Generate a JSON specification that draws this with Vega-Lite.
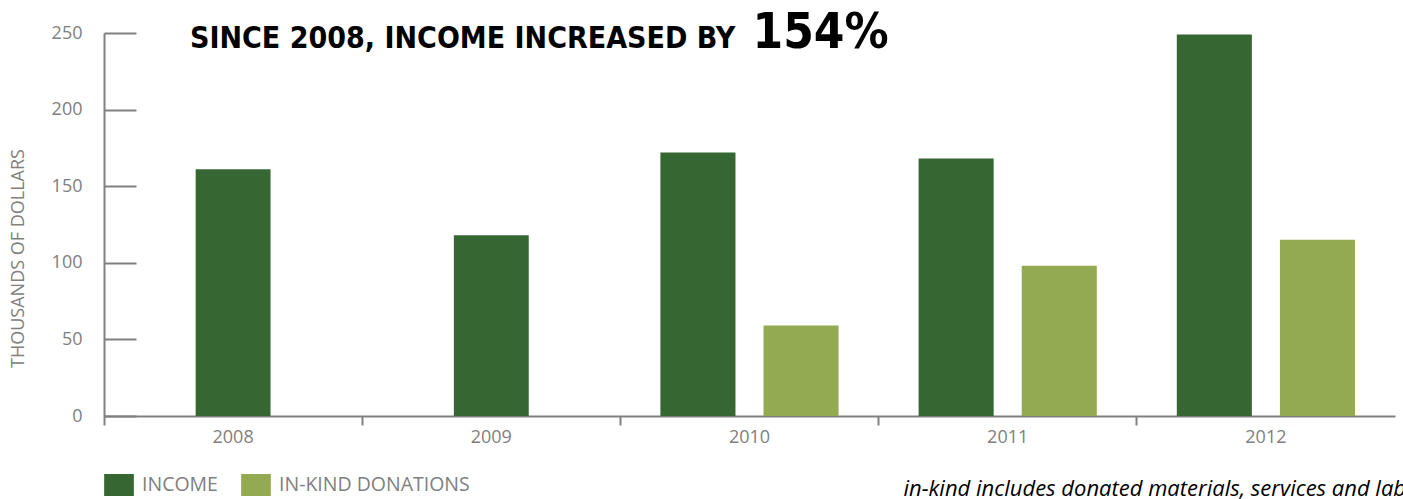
{
  "$schema": "https://vega.github.io/schema/vega-lite/v6.json",
  "width": 1291,
  "height": 383,
  "autosize": {"type": "none"},
  "padding": {"left": 104, "top": 33, "right": 8, "bottom": 83},
  "background": "white",
  "title": {
    "text": "SINCE 2008, INCOME INCREASED BY",
    "anchor": "start",
    "frame": "group",
    "orient": "top",
    "baseline": "alphabetic",
    "offset": 0,
    "dx": 86,
    "dy": 69,
    "font": "DejaVu Sans Condensed",
    "fontWeight": "bold",
    "fontSize": 30,
    "color": "#000000"
  },
  "data": {
    "values": [
      {"year": "2008", "series": "Income", "value": 161},
      {"year": "2009", "series": "Income", "value": 118},
      {"year": "2010", "series": "Income", "value": 172},
      {"year": "2010", "series": "In-kind donations", "value": 59},
      {"year": "2011", "series": "Income", "value": 168},
      {"year": "2011", "series": "In-kind donations", "value": 98},
      {"year": "2012", "series": "Income", "value": 249},
      {"year": "2012", "series": "In-kind donations", "value": 115}
    ]
  },
  "config": {
    "view": {"stroke": null},
    "font": "Open Sans"
  },
  "layer": [
    {
      "transform": [
        {"joinaggregate": [{"op": "count", "as": "n"}], "groupby": ["year"]},
        {"filter": "datum.n == 2"}
      ],
      "mark": {"type": "bar"},
      "encoding": {
        "x": {
          "field": "year",
          "type": "nominal",
          "scale": {"paddingInner": 0, "paddingOuter": 0},
          "axis": {
            "bandPosition": 0,
            "domainColor": "#808080",
            "domainWidth": 2,
            "tickColor": "#808080",
            "tickWidth": 2,
            "tickSize": 9,
            "labelAngle": 0,
            "labelColor": "#808080",
            "labelFont": "Open Sans",
            "labelFontSize": 18,
            "labelPadding": 3,
            "title": "in-kind includes donated materials, services and labor",
            "titleFont": "Open Sans",
            "titleFontStyle": "italic",
            "titleFontWeight": "normal",
            "titleFontSize": 22,
            "titleColor": "#000000",
            "titleAnchor": "start",
            "titleAlign": "left",
            "titleBaseline": "alphabetic",
            "titleX": 799,
            "titleY": 79,
            "titleLimit": 1000
          }
        },
        "xOffset": {
          "field": "series",
          "type": "nominal",
          "scale": {"domain": ["Income", "In-kind donations"], "paddingInner": 0.272, "paddingOuter": 0.388}
        },
        "y": {
          "field": "value",
          "type": "quantitative",
          "scale": {"domain": [0, 250], "nice": false},
          "axis": {
            "values": [0, 50, 100, 150, 200, 250],
            "grid": false,
            "domainColor": "#808080",
            "domainWidth": 2,
            "tickColor": "#808080",
            "tickWidth": 2,
            "tickSize": -32,
            "labelPadding": 54,
            "labelColor": "#808080",
            "labelFont": "Open Sans",
            "labelFontSize": 18,
            "title": "THOUSANDS OF DOLLARS",
            "titleFont": "Open Sans",
            "titleFontWeight": "normal",
            "titleFontSize": 18,
            "titleColor": "#808080",
            "titleX": -86,
            "titleY": 225,
            "titleAlign": "center",
            "titleBaseline": "middle",
            "titleAngle": -90
          }
        },
        "color": {
          "field": "series",
          "type": "nominal",
          "scale": {"domain": ["Income", "In-kind donations"], "range": ["#366632", "#93aa50"]},
          "legend": {
            "title": null,
            "orient": "none",
            "direction": "horizontal",
            "legendX": 4,
            "legendY": 441,
            "padding": 0,
            "symbolType": "M-1.35,-1H1.35V1H-1.35Z",
            "symbolSize": 484,
            "symbolStrokeWidth": 0,
            "symbolOpacity": 1,
            "labelExpr": "upper(datum.label)",
            "labelFont": "Open Sans",
            "labelFontSize": 19.5,
            "labelColor": "#808080",
            "labelOffset": 12,
            "labelLimit": 400,
            "columnPadding": 23
          }
        }
      }
    },
    {
      "transform": [
        {"joinaggregate": [{"op": "count", "as": "n"}], "groupby": ["year"]},
        {"filter": "datum.n == 1"}
      ],
      "mark": {"type": "bar", "width": {"band": 0.29}},
      "encoding": {
        "x": {"field": "year", "type": "nominal"},
        "y": {"field": "value", "type": "quantitative"},
        "color": {"field": "series", "type": "nominal"}
      }
    },
    {
      "data": {"values": [{"label": "154%"}]},
      "mark": {
        "type": "text",
        "align": "left",
        "baseline": "alphabetic",
        "dx": 3,
        "dy": 15,
        "font": "DejaVu Sans Condensed",
        "fontWeight": "bold",
        "fontSize": 49,
        "color": "#000000"
      },
      "encoding": {
        "x": {"datum": "2010"},
        "y": {"datum": 250},
        "text": {"field": "label"}
      }
    }
  ]
}
